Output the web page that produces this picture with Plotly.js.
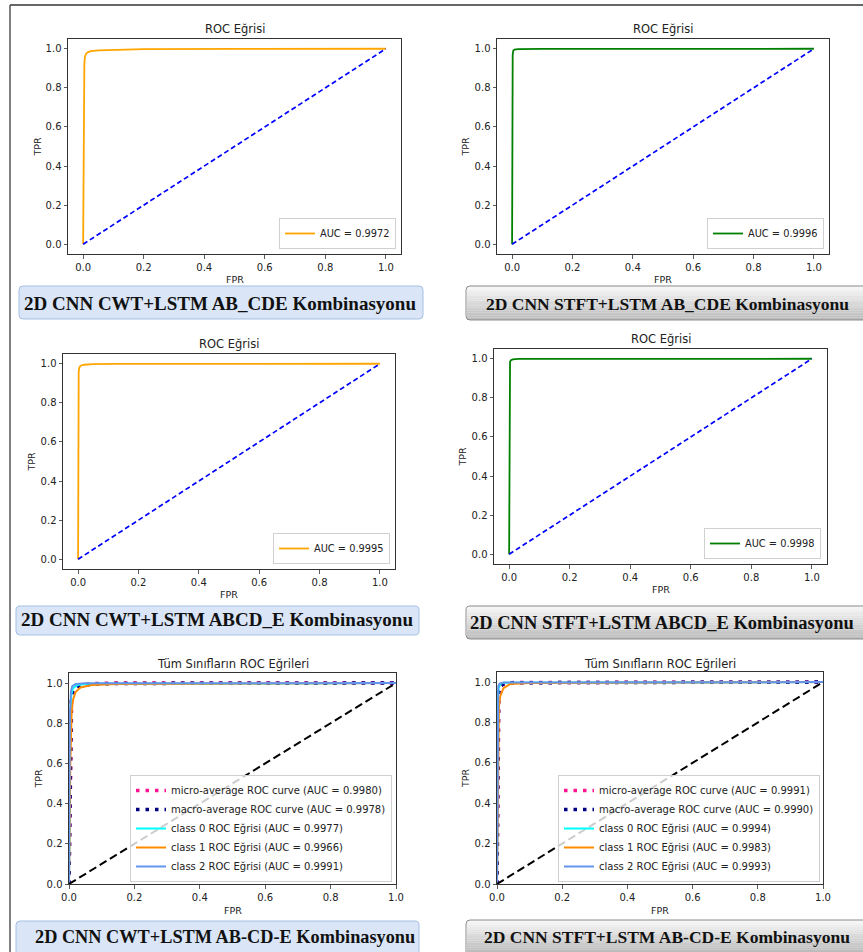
<!DOCTYPE html>
<html><head><meta charset="utf-8">
<script src="https://cdn.plot.ly/plotly-3.0.1.min.js"></script>
<style>html,body{margin:0;padding:0;background:#fff;} #chart{width:863px;height:952px;}</style>
</head><body><div id="chart"></div>
<script>
// ---------------- data ----------------
const diagX = [0, 1];
const diagY = [0, 1];
const tickVals = [0, 0.2, 0.4, 0.6, 0.8, 1.0];
const tickText = ['0.0', '0.2', '0.4', '0.6', '0.8', '1.0'];

// Panel 1: 2D CNN CWT+LSTM AB_CDE
const fpr1 = [0, 0.001, 0.002, 0.004, 0.006, 0.01, 0.015, 0.025, 0.05, 0.1, 0.2, 0.5, 1];
const tpr1 = [0, 0.55, 0.8, 0.92, 0.96, 0.975, 0.982, 0.988, 0.992, 0.995, 0.998, 0.999, 1];
const auc1 = 'AUC = 0.9972';
// Panel 2: 2D CNN STFT+LSTM AB_CDE
const fpr2 = [0, 0.0005, 0.002, 0.004, 0.008, 0.02, 0.1, 1];
const tpr2 = [0, 0.9, 0.97, 0.99, 0.996, 0.998, 0.999, 1];
const auc2 = 'AUC = 0.9996';
// Panel 3: 2D CNN CWT+LSTM ABCD_E
const fpr3 = [0, 0.001, 0.002, 0.004, 0.008, 0.02, 0.05, 0.12, 1];
const tpr3 = [0, 0.9, 0.96, 0.98, 0.99, 0.995, 0.998, 0.999, 1];
const auc3 = 'AUC = 0.9995';
// Panel 4: 2D CNN STFT+LSTM ABCD_E
const fpr4 = [0, 0.001, 0.003, 0.006, 0.012, 0.03, 1];
const tpr4 = [0, 0.95, 0.985, 0.993, 0.997, 0.999, 1];
const auc4 = 'AUC = 0.9998';

// Panel 5: 2D CNN CWT+LSTM AB-CD-E (multi-class)
const micro5F = [0, 0.006, 0.008, 0.012, 0.02, 0.04, 0.08, 0.15, 1];
const micro5T = [0, 0.7, 0.9, 0.96, 0.985, 0.993, 0.998, 1, 1];
const macro5F = [0, 0.004, 0.007, 0.012, 0.02, 0.04, 0.08, 0.15, 1];
const macro5T = [0, 0.75, 0.92, 0.96, 0.98, 0.99, 0.995, 0.998, 1];
const c0_5F = [0, 0.004, 0.007, 0.012, 0.025, 0.06, 1];
const c0_5T = [0, 0.8, 0.94, 0.975, 0.99, 0.996, 1];
const c1_5F = [0, 0.004, 0.008, 0.012, 0.02, 0.035, 0.07, 0.15, 1];
const c1_5T = [0, 0.6, 0.85, 0.915, 0.955, 0.978, 0.99, 0.995, 1];
const c2_5F = [0, 0.003, 0.006, 0.01, 0.02, 0.05, 1];
const c2_5T = [0, 0.85, 0.96, 0.985, 0.995, 0.999, 1];
const labels5 = ['micro-average ROC curve (AUC = 0.9980)', 'macro-average ROC curve (AUC = 0.9978)',
  'class 0 ROC Eğrisi (AUC = 0.9977)', 'class 1 ROC Eğrisi (AUC = 0.9966)', 'class 2 ROC Eğrisi (AUC = 0.9991)'];

// Panel 6: 2D CNN STFT+LSTM AB-CD-E (multi-class)
const micro6F = [0, 0.004, 0.006, 0.01, 0.02, 0.05, 1];
const micro6T = [0, 0.8, 0.95, 0.98, 0.99, 0.998, 1];
const macro6F = [0, 0.003, 0.005, 0.01, 0.02, 0.05, 1];
const macro6T = [0, 0.85, 0.95, 0.98, 0.99, 0.997, 1];
const c0_6F = [0, 0.002, 0.005, 0.01, 0.02, 1];
const c0_6T = [0, 0.9, 0.97, 0.99, 0.997, 1];
const c1_6F = [0, 0.003, 0.006, 0.01, 0.02, 0.04, 0.1, 1];
const c1_6T = [0, 0.7, 0.88, 0.93, 0.97, 0.99, 0.995, 1];
const c2_6F = [0, 0.002, 0.004, 0.008, 0.02, 1];
const c2_6T = [0, 0.92, 0.98, 0.993, 0.998, 1];
const labels6 = ['micro-average ROC curve (AUC = 0.9991)', 'macro-average ROC curve (AUC = 0.9990)',
  'class 0 ROC Eğrisi (AUC = 0.9994)', 'class 1 ROC Eğrisi (AUC = 0.9983)', 'class 2 ROC Eğrisi (AUC = 0.9993)'];

const captions = [
  '2D CNN CWT+LSTM AB_CDE Kombinasyonu',
  '2D CNN STFT+LSTM AB_CDE Kombinasyonu',
  '2D CNN CWT+LSTM ABCD_E Kombinasyonu',
  '2D CNN STFT+LSTM ABCD_E Kombinasyonu',
  '2D CNN CWT+LSTM AB-CD-E Kombinasyonu',
  '2D CNN STFT+LSTM AB-CD-E Kombinasyonu'
];
const titleBin = 'ROC Eğrisi';
const titleMulti = 'Tüm Sınıfların ROC Eğrileri';

// ---------------- layout helpers ----------------
const W = 863, H = 952;
const px = x => x / W, py = y => 1 - y / H;
const SANS = 'DejaVu Sans, Verdana, sans-serif';
const SERIF = 'Liberation Serif, Times New Roman, serif';

const geo = [
  {l:68, r:401, t:39, b:254, xr:[-0.05,1.05], yr:[-0.05,1.05], tY:29, fY:279, tprX:37, lr:396, lb:249, lf:9.8},
  {l:497, r:829, t:39, b:254, xr:[-0.05,1.05], yr:[-0.05,1.05], tY:29, fY:279, tprX:465, lr:824, lb:249, lf:9.8},
  {l:63, r:395, t:354, b:569, xr:[-0.05,1.05], yr:[-0.05,1.05], tY:344, fY:594, tprX:31, lr:390, lb:564, lf:9.8},
  {l:494, r:827, t:349, b:564, xr:[-0.05,1.05], yr:[-0.05,1.05], tY:339, fY:589, tprX:462, lr:821, lb:559, lf:9.8},
  {l:69, r:396, t:673, b:884, xr:[0,1], yr:[0,1.05], tY:664, fY:910, tprX:38, lr:392, lb:882, lf:10},
  {l:497, r:823, t:672, b:884, xr:[0,1], yr:[0,1.05], tY:664, fY:910, tprX:465, lr:820, lb:882, lf:10}
];

const capGeo = [
  {x0:19, x1:423, y0:286, y1:319, st:'blue', tx:220, ty:303, anc:'center', fs:19},
  {x0:466, x1:885, y0:286, y1:320, st:'gray', tx:667, ty:304, anc:'center', fs:17.5},
  {x0:16, x1:419, y0:606, y1:635, st:'blue', tx:217, ty:619, anc:'center', fs:19},
  {x0:466, x1:885, y0:606, y1:639, st:'gray', tx:468, ty:623, anc:'left', fs:18.5},
  {x0:16, x1:419, y0:921, y1:970, st:'blue', tx:225, ty:937, anc:'center', fs:18.3},
  {x0:466, x1:885, y0:920, y1:970, st:'gray', tx:667, ty:937, anc:'center', fs:17.5}
];

const traces = [];
function line(x, y, ax, leg, name, color, width, dash, show) {
  traces.push({x, y, type:'scatter', mode:'lines', name,
    xaxis:'x'+ax, yaxis:'y'+ax, legend: leg, showlegend: show,
    line:{color, width, dash: dash || 'solid'}, hoverinfo:'skip'});
}
const binData = [[fpr1,tpr1,auc1,'#ffa500'],[fpr2,tpr2,auc2,'#008000'],[fpr3,tpr3,auc3,'#ffa500'],[fpr4,tpr4,auc4,'#008000']];
binData.forEach((d, i) => {
  const ax = i === 0 ? '' : String(i+1);
  const leg = i === 0 ? 'legend' : 'legend' + (i+1);
  line(d[0], d[1], ax, leg, d[2], d[3], 1.8, null, true);
  line(diagX, diagY, ax, leg, 'diag', '#0000ff', 1.7, '5px,3px', false);
});
const multi = [
  [[micro5F,micro5T],[macro5F,macro5T],[c0_5F,c0_5T],[c1_5F,c1_5T],[c2_5F,c2_5T], labels5],
  [[micro6F,micro6T],[macro6F,macro6T],[c0_6F,c0_6T],[c1_6F,c1_6T],[c2_6F,c2_6T], labels6]
];
const mStyle = [['#ff1493',3.5,'3.5px,6px'],['#000080',3.5,'3.5px,6px'],['#00ffff',2,null],['#ff8c00',2,null],['#6495ed',2,null]];
multi.forEach((m, k) => {
  const ax = String(k+5), leg = 'legend' + (k+5);
  for (let j = 0; j < 5; j++) line(m[j][0], m[j][1], ax, leg, m[5][j], mStyle[j][0], mStyle[j][1], mStyle[j][2], true);
  line(diagX, diagY, ax, leg, 'diag', '#000000', 2, '8px,4px', false);
});

const layout = {width:W, height:H, margin:{l:0,r:0,t:0,b:0}, paper_bgcolor:'#fff', plot_bgcolor:'#fff',
  showlegend:true, annotations:[], shapes:[]};

geo.forEach((g, i) => {
  const s = i === 0 ? '' : String(i+1);
  const axCommon = {showgrid:false, zeroline:false, showline:true, mirror:true, linecolor:'#333', linewidth:1,
    ticks:'outside', ticklen:3.5, tickwidth:0.8, tickcolor:'#333', tickvals:tickVals, ticktext:tickText,
    tickfont:{family:SANS, size:10, color:'#222'}, fixedrange:true};
  layout['xaxis'+s] = Object.assign({}, axCommon, {domain:[px(g.l), px(g.r)], range:g.xr, anchor:'y'+s});
  layout['yaxis'+s] = Object.assign({}, axCommon, {domain:[py(g.b), py(g.t)], range:g.yr, anchor:'x'+s});
  layout[i === 0 ? 'legend' : 'legend'+(i+1)] = {x:px(g.lr), y:py(g.lb), xanchor:'right', yanchor:'bottom',
    xref:'paper', yref:'paper', bgcolor:'rgba(255,255,255,0.8)', bordercolor:'#d0d0d0', borderwidth:1,
    font:{family:SANS, size:g.lf, color:'#222'}, itemwidth:30, tracegroupgap:0};
  layout.annotations.push({xref:'paper', yref:'paper', x:px((g.l+g.r)/2), y:py(g.tY), text: i < 4 ? titleBin : titleMulti,
    showarrow:false, xanchor:'center', yanchor:'middle', font:{family:SANS, size:11.5, color:'#222'}});
  layout.annotations.push({xref:'paper', yref:'paper', x:px((g.l+g.r)/2), y:py(g.fY), text:'FPR',
    showarrow:false, xanchor:'center', yanchor:'middle', font:{family:SANS, size:9.5, color:'#222'}});
  layout.annotations.push({xref:'paper', yref:'paper', x:px(g.tprX), y:py((g.t+g.b)/2), text:'TPR', textangle:-90,
    showarrow:false, xanchor:'center', yanchor:'middle', font:{family:SANS, size:9.5, color:'#222'}});
});

function rr(x0, y0, x1, y1, r) {
  const X = v => px(v).toFixed(5), Y = v => py(v).toFixed(5);
  return `M${X(x0+r)},${Y(y0)} L${X(x1-r)},${Y(y0)} Q${X(x1)},${Y(y0)} ${X(x1)},${Y(y0+r)} L${X(x1)},${Y(y1-r)} Q${X(x1)},${Y(y1)} ${X(x1-r)},${Y(y1)} L${X(x0+r)},${Y(y1)} Q${X(x0)},${Y(y1)} ${X(x0)},${Y(y1-r)} L${X(x0)},${Y(y0+r)} Q${X(x0)},${Y(y0)} ${X(x0+r)},${Y(y0)} Z`;
}
function mix(a, b, t) { return Math.round(a + (b - a) * t); }

capGeo.forEach((c, i) => {
  if (c.st === 'blue') {
    layout.shapes.push({type:'path', xref:'paper', yref:'paper', path: rr(c.x0, c.y0, c.x1, c.y1, 4),
      fillcolor:'#dae6f7', line:{color:'#a4bfe4', width:1}});
  } else {
    const n = 14;
    const bottomVis = Math.min(c.y1, H);
    for (let k = 0; k < n; k++) {
      const t = k / (n - 1);
      const ya = c.y0 + (bottomVis - c.y0) * k / n, yb = c.y0 + (bottomVis - c.y0) * (k + 1) / n;
      const v = mix(246, 188, t);
      layout.shapes.push({type:'rect', xref:'paper', yref:'paper', x0:px(c.x0+1), x1:px(c.x1), y0:py(yb), y1:py(ya),
        fillcolor:`rgb(${v},${v},${v})`, line:{width:0}});
    }
    layout.shapes.push({type:'path', xref:'paper', yref:'paper', path: rr(c.x0, c.y0, c.x1, c.y1, 4),
      fillcolor:'rgba(0,0,0,0)', line:{color:'#8a8a8a', width:1}});
  }
  layout.annotations.push({xref:'paper', yref:'paper', x:px(c.tx), y:py(c.ty), text:'<b>'+captions[i]+'</b>',
    showarrow:false, xanchor:c.anc, yanchor:'middle', font:{family:SERIF, size:c.fs, color:'#111'}});
});

// outer frame lines
layout.shapes.push({type:'line', xref:'paper', yref:'paper', x0:px(10), x1:px(W), y0:py(5), y1:py(5), line:{color:'#333', width:1.5}});
layout.shapes.push({type:'line', xref:'paper', yref:'paper', x0:px(10), x1:px(10), y0:py(5), y1:py(H), line:{color:'#555', width:1.5}});

Plotly.newPlot('chart', traces, layout, {displayModeBar:false, staticPlot:true});
</script>
</body></html>
